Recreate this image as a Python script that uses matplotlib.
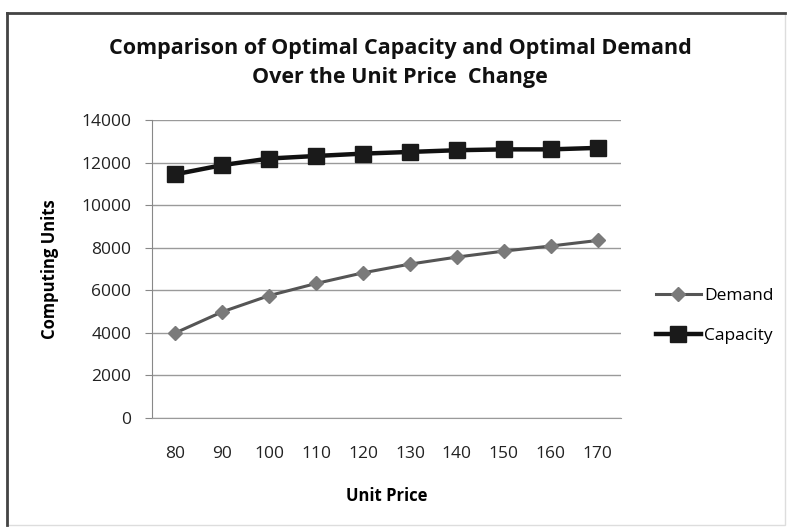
import matplotlib
matplotlib.use("Agg")
import matplotlib.pyplot as plt
from matplotlib.lines import Line2D
from matplotlib.patches import Rectangle

# Data
unit_price = ["80", "90", "100", "110", "120", "130", "140", "150", "160", "170"]
demand = [4000, 4990, 5750, 6320, 6820, 7230, 7560, 7840, 8080, 8340]
capacity = [11450, 11880, 12190, 12310, 12420, 12500, 12580, 12620, 12620, 12690]
y_ticks = [0, 2000, 4000, 6000, 8000, 10000, 12000, 14000]

plt.rcParams["font.family"] = ["Open Sans", "DejaVu Sans"]

fig = plt.figure(figsize=(7.91, 5.27), dpi=100)
ax = fig.add_axes([152 / 791, 1 - 418 / 527, 469 / 791, 298 / 527])

x = list(range(len(unit_price)))
ax.plot(x, demand, color="#555555", lw=2.2, marker="D", ms=7,
        mfc="#7a7a7a", mec="#7a7a7a", label="Demand", zorder=3)
ax.plot(x, capacity, color="#111111", lw=3.2, marker="s", ms=11,
        mfc="#1a1a1a", mec="#1a1a1a", label="Capacity", zorder=4)

ax.set_xlim(-0.5, len(unit_price) - 0.5)
ax.set_ylim(0, 14000)
ax.set_yticks(y_ticks)
ax.set_yticklabels([str(v) for v in y_ticks], fontsize=12.5, color="#222222")
ax.set_xticks(x)
ax.set_xticklabels(unit_price, fontsize=12.5, color="#222222")
ax.tick_params(axis="x", length=0, pad=20)
ax.tick_params(axis="y", length=5, direction="out", color="#888888", pad=10)
ax.grid(axis="y", color="#9a9a9a", lw=1.0)
ax.set_axisbelow(True)
for side in ("top", "right"):
    ax.spines[side].set_visible(False)
ax.spines["left"].set_color("#888888")
ax.spines["bottom"].set_color("#9a9a9a")

ax.set_xlabel("Unit Price", fontsize=12, fontweight="bold", labelpad=18)
ax.set_ylabel("Computing Units", fontsize=12, fontweight="bold", labelpad=16)

fig.text(400 / 791, 1 - 63 / 527,
         "Comparison of Optimal Capacity and Optimal Demand\nOver the Unit Price  Change",
         ha="center", va="center", fontsize=15.5, fontweight="bold",
         linespacing=1.55, color="#111111")

handles = [
    Line2D([], [], color="#555555", lw=2.2, marker="D", ms=7,
           mfc="#7a7a7a", mec="#7a7a7a"),
    Line2D([], [], color="#111111", lw=3.2, marker="s", ms=11,
           mfc="#1a1a1a", mec="#1a1a1a"),
]
fig.legend(handles, ["Demand", "Capacity"], loc="center left",
           bbox_to_anchor=(640 / 791, 1 - 316 / 527), frameon=False,
           fontsize=12.5, handlelength=2.6, handletextpad=0.2,
           labelspacing=1.35)

# Chart frame
fig.add_artist(Rectangle((7 / 791, 2 / 527), 778 / 791, 512 / 527,
                         transform=fig.transFigure, fill=False,
                         ec="#dddddd", lw=1.0))
fig.add_artist(Line2D([7 / 791, 7 / 791], [2 / 527, 514 / 527],
                      transform=fig.transFigure, color="#444444", lw=2.0))
fig.add_artist(Line2D([7 / 791, 785 / 791], [514 / 527, 514 / 527],
                      transform=fig.transFigure, color="#444444", lw=2.0))

fig.savefig("out.png", dpi=100)
